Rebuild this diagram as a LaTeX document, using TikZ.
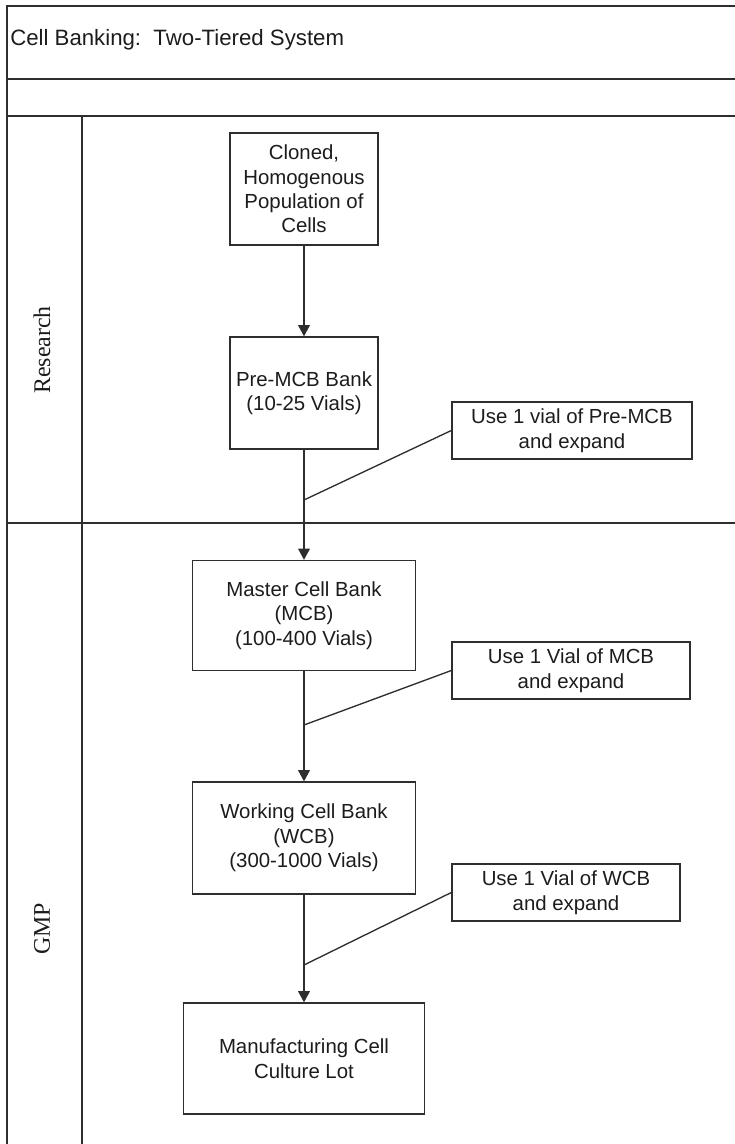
\documentclass[tikz,border=0pt]{standalone}
\usepackage{fontspec}
\setmainfont{Liberation Sans}
\newfontfamily\lanefont{Liberation Serif}
\usetikzlibrary{arrows.meta,positioning}
\definecolor{cbLine}{HTML}{2e2e2e}
\definecolor{cbText}{HTML}{1c1c1c}
\tikzset{
  >={Triangle[length=8pt,width=8.4pt]},
  stage/.style={draw=cbLine, line width=0.95pt, fill=white, align=center,
              inner sep=0pt, text=cbText, font=\fontsize{14.5}{17.4}\selectfont},
  note/.style={stage, minimum height=1.425cm},
  lane/.style={draw=cbLine, line width=0.95pt},
  lanelbl/.style={rotate=90, text=cbText, font=\lanefont\fontsize{17}{20}\selectfont},
  ttl/.style={anchor=west, inner sep=0pt, text=cbText, font=\fontsize{15.8}{19}\selectfont},
  flow/.style={->, draw=cbLine, line width=0.95pt},
  feed/.style={draw=cbLine, line width=0.95pt},
}

\begin{document}
\begin{tikzpicture}[x=0.025cm,y=-0.025cm]
  \useasboundingbox (0,0) rectangle (735,1144);
  % pool and lanes
  \draw[lane] (7,1145) -- (7,6) -- (736,6);
  \draw[lane] (7,79) -- (736,79);
  \draw[lane] (7,116) -- (736,116);
  \draw[lane] (7,523) -- (736,523);
  \draw[lane] (82,116) -- (82,1145);
  \node[ttl] (title) at (10,40) {Cell Banking:\ \ Two-Tiered System};
  \node[lanelbl] (research) at (42,350) {Research};
  \node[lanelbl] (gmp) at (42,929) {GMP};

  % banks
  \node[stage,minimum width=3.7cm,minimum height=2.8cm] (clone) at (304,189)
    {Cloned,\\Homogenous\\Population of\\Cells};
  \node[stage,minimum width=3.7cm,minimum height=2.8cm] (premcb) at (304,393)
    {Pre-MCB Bank\\(10-25 Vials)};
  \node[stage,minimum width=5.575cm,minimum height=2.75cm] (mcb) at (304,615.5)
    {Master Cell Bank\\(MCB)\\(100-400 Vials)};
  \node[stage,minimum width=5.575cm,minimum height=2.8cm] (wcb) at (304,838)
    {Working Cell Bank\\(WCB)\\(300-1000 Vials)};
  \node[stage,minimum width=6.025cm,minimum height=2.775cm] (lot) at (304,1058.5)
    {Manufacturing Cell\\Culture Lot};

  % expansion notes
  \node[note,minimum width=6.0cm] (use1) at (572,430.5) {Use 1 vial of Pre-MCB\\and expand};
  \node[note,minimum width=5.95cm] (use2) at (571,670.5) {Use 1 Vial of MCB\\and expand};
  \node[note,minimum width=5.7cm] (use3) at (566,892.5) {Use 1 Vial of WCB\\and expand};
  \coordinate (j1) at (304,500);
  \coordinate (j2) at (304,725);
  \coordinate (j3) at (304,965);

  \draw[flow] (clone) -- (premcb);
  \draw[flow] (premcb) -- (mcb);
  \draw[flow] (mcb) -- (wcb);
  \draw[flow] (wcb) -- (lot);
  \draw[feed] (use1.west) -- (j1);
  \draw[feed] (use2.west) -- (j2);
  \draw[feed] (use3.west) -- (j3);
\end{tikzpicture}
\end{document}
